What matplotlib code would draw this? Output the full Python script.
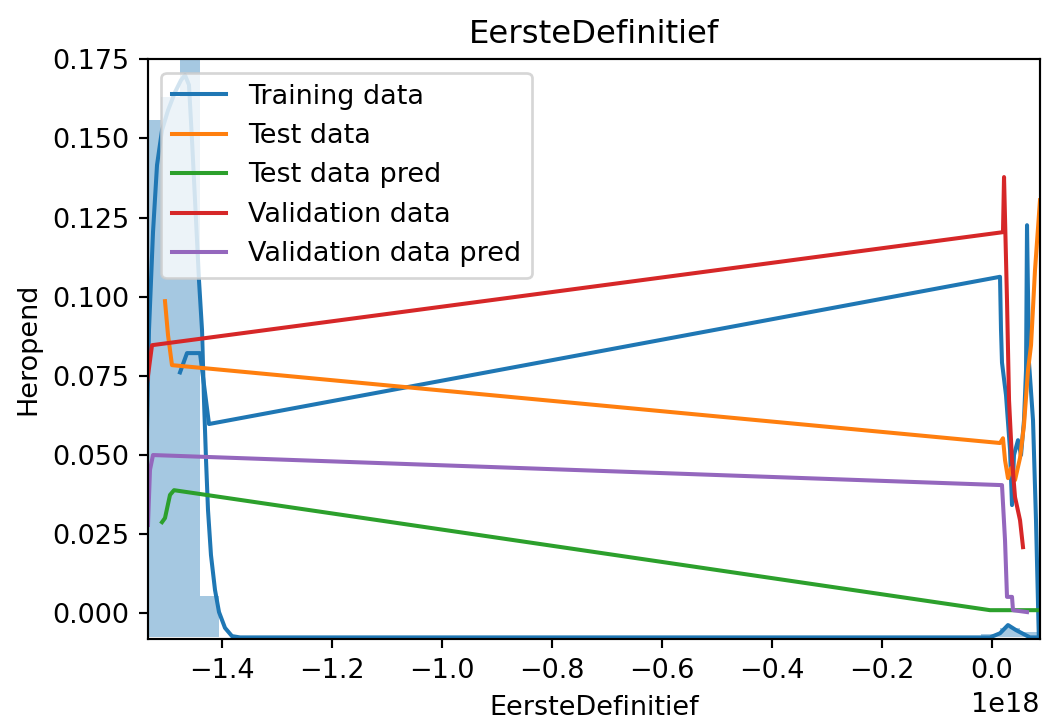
import matplotlib
matplotlib.use('Agg')
import matplotlib.pyplot as plt
import numpy as np

# x values are in units of 1e18 (scaled when plotting)
scale = 1e18

# distplot histogram of training data
hist_left = [-1.5467, -1.5112, -1.4757, -1.4402, -0.0202, 0.0153, 0.0508]
hist_width = 0.0355
hist_top = [0.1558, 0.163, 0.195, 0.0055, -0.0066, -0.0046, -0.0060]
kde_base = -0.0076

# kde curve
kde_x = [-1.5704, -1.5576, -1.5485, -1.5413, -1.5358, -1.5322, -1.5249, -1.5176,
         -1.5085, -1.4976, -1.4849, -1.4740, -1.4667, -1.4595, -1.4540, -1.4467,
         -1.4413, -1.4358, -1.4322, -1.4285, -1.4249, -1.4195, -1.4122, -1.4049,
         -1.3940, -1.3813, -1.3667, -0.0031, 0.0151, 0.0296, 0.0442, 0.0696, 0.0969]
kde_y = [-0.0076, -0.0053, 0.0073, 0.0294, 0.0579, 0.0895, 0.1204, 0.1416,
         0.1526, 0.1589, 0.1646, 0.1684, 0.1700, 0.1669, 0.1495, 0.1242,
         0.1052, 0.0895, 0.0673, 0.0484, 0.0326, 0.0184, 0.0074, 0.0004,
         -0.0046, -0.0072, -0.0076, -0.0076, -0.0063, -0.0037, -0.0053, -0.0076, -0.0076]

train_x = [-1.4758, -1.4631, -1.4395, -1.4231, 0.0151, 0.0169, 0.0187, 0.0260, 0.0333,
           0.0369, 0.0405, 0.0478, 0.0533, 0.0587, 0.0624, 0.0642, 0.0678, 0.0751,
           0.0805, 0.0860]
train_y = [0.0761, 0.0822, 0.0822, 0.0598, 0.1063, 0.0896, 0.0792, 0.0689, 0.0516,
           0.0342, 0.0500, 0.0547, 0.0500, 0.0610, 0.0768, 0.1226, 0.0792, 0.0610,
           0.0295, -0.0100]

test_x = [-1.5031, -1.4976, -1.4904, 0.0151, 0.0205, 0.0242, 0.0296, 0.0351, 0.0424,
          0.0515, 0.0587, 0.0660, 0.0715, 0.0787, 0.0878]
test_y = [0.0986, 0.0879, 0.0784, 0.0538, 0.0553, 0.0484, 0.0427, 0.0459, 0.0421,
          0.0491, 0.0595, 0.0768, 0.0847, 0.1084, 0.1305]

test_pred_x = [-1.5085, -1.5031, -1.4940, -1.4867, -0.0031, 0.0878]
test_pred_y = [0.0288, 0.0301, 0.0374, 0.0389, 0.0010, 0.0010]

val_x = [-1.5358, -1.5267, 0.0205, 0.0224, 0.0278, 0.0315, 0.0369, 0.0424, 0.0515, 0.0569]
val_y = [0.0727, 0.0847, 0.1204, 0.1378, 0.0989, 0.0673, 0.0484, 0.0367, 0.0294, 0.0209]

val_pred_x = [-1.5340, -1.5304, -1.5249, 0.0187, 0.0242, 0.0278, 0.0369, 0.0387, 0.0642]
val_pred_y = [0.0279, 0.0453, 0.0500, 0.0405, 0.0231, 0.0052, 0.0052, 0.0010, 0.0004]

dpi = 194
fig, ax = plt.subplots(figsize=(1042 / dpi, 726 / dpi), dpi=dpi)

ax.bar(np.array(hist_left) * scale, np.array(hist_top) - kde_base,
       width=hist_width * scale, bottom=kde_base, align='edge',
       color='#1f77b4', alpha=0.4, linewidth=0)
ax.plot(np.array(kde_x) * scale, kde_y, color='#1f77b4', lw=1.5)

ax.plot(np.array(train_x) * scale, train_y, color='#1f77b4', label='Training data')
ax.plot(np.array(test_x) * scale, test_y, color='#ff7f0e', label='Test data')
ax.plot(np.array(test_pred_x) * scale, test_pred_y, color='#2ca02c', label='Test data pred')
ax.plot(np.array(val_x) * scale, val_y, color='#d62728', label='Validation data')
ax.plot(np.array(val_pred_x) * scale, val_pred_y, color='#9467bd', label='Validation data pred')

ax.set_xlim(-1.534 * scale, 0.0878 * scale)
ax.set_ylim(-0.0082, 0.175)
ax.set_xticks(np.arange(-1.4, 0.01, 0.2) * scale)
ax.set_yticks(np.arange(0, 0.176, 0.025))

ax.legend(loc='upper left')
ax.set_title('EersteDefinitief')
ax.set_xlabel('EersteDefinitief')
ax.set_ylabel('Heropend')

fig.subplots_adjust(left=148 / 1042, right=1040 / 1042, top=1 - 59.3 / 726, bottom=1 - 639.3 / 726)
fig.savefig('out.png', dpi=dpi)
